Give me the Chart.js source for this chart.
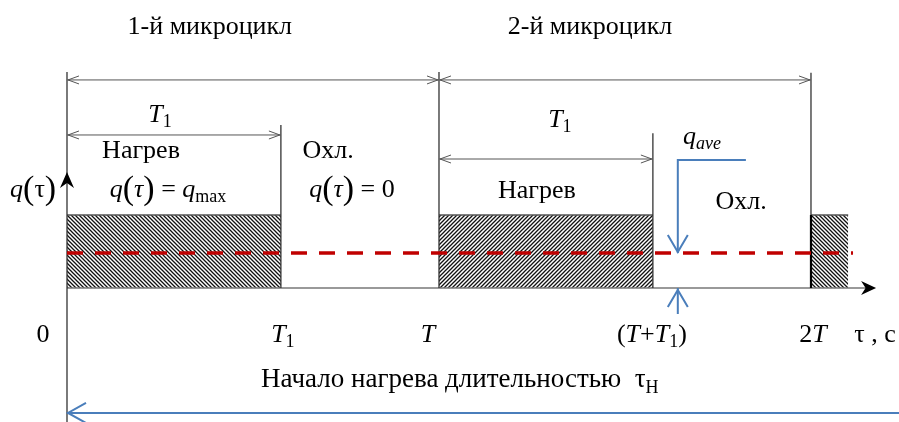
<!DOCTYPE html>
<html>
<head>
<meta charset="utf-8">
<script src="https://cdn.jsdelivr.net/npm/chart.js@4.4.0/dist/chart.umd.min.js"></script>
<style>
body{margin:0;background:#fff;}
#wrap{width:899px;height:422px;position:relative;}
</style>
</head>
<body>
<div id="wrap"><canvas id="c"></canvas></div>
<script>
// values, time in units of T, heat flux in units of q_max
const T = 1;
const T1 = 0.575;
const qMax = 1;
const qAve = 0.48;
const pulseStart = [0, T, 2 * T];
const pulseEnd = [T1, T + T1, 2.1];
const tickValues = [0, T1, T, T + T1, 2 * T];
const tickLabels = ['0', '<i>T</i><sub>1</sub>', '<i>T</i>', '(<i>T</i>+<i>T</i><sub>1</sub>)', '2<i>T</i>'];

const FONT = '"Liberation Serif", "Times New Roman", serif';
const BLUE = '#4a7ebb';

function hatch(dir){
    const c = document.createElement('canvas');
    c.width = 4; c.height = 4;
    const g = c.getContext('2d');
    g.strokeStyle = '#111';
    g.lineWidth = 1.3;
    g.beginPath();
    if (dir > 0) {
        g.moveTo(-1, 5); g.lineTo(5, -1);
        g.moveTo(-1, 1); g.lineTo(1, -1);
        g.moveTo(3, 5); g.lineTo(5, 3);
    } else {
        g.moveTo(-1, -1); g.lineTo(5, 5);
        g.moveTo(-1, 3); g.lineTo(1, 5);
        g.moveTo(3, -1); g.lineTo(5, 1);
    }
    g.stroke();
    return g.createPattern(c, 'repeat');
}

function seg(points, color, width, order, dash){
    return {
        data: points.map(p => ({x: p[0], y: p[1]})),
        borderColor: color,
        borderWidth: width,
        borderDash: dash || [],
        pointRadius: 0,
        fill: false,
        order: order
    };
}

const datasets = [];
// heating pulses
pulseStart.forEach((s, i) => {
    datasets.push({
        data: [{x: s, y: qMax}, {x: pulseEnd[i], y: qMax}],
        borderColor: '#555',
        borderWidth: 1.5,
        backgroundColor: hatch(i === 1 ? 1 : -1),
        pointRadius: 0,
        fill: 'origin',
        order: 6
    });
});
// time axis
datasets.push(seg([[0, 0], [2.17, 0]], '#777', 1.5, 4));
// vertical guides at tick values
const guideTop = [2.96, 2.233, 2.96, 2.12, 2.95];
tickValues.forEach((v, i) => {
    datasets.push(seg([[v, i === 0 ? -1.9 : 0], [v, guideTop[i]]], '#333', 1.3, 3));
});
// left edge of the third pulse
datasets.push(seg([[2 * T, 0], [2 * T, qMax]], '#000', 2.2, 2));
// average flux
datasets.push(seg([[0, qAve], [2.113, qAve]], '#c00000', 3.5, 1, [16, 12]));
// q_ave pointer
datasets.push(seg([[1.825, 1.753], [1.642, 1.753], [1.642, qAve]], BLUE, 2, 0));
datasets.push(seg([[1.642, 0], [1.642, -0.356]], BLUE, 2, 0));
// heating duration arrow
datasets.push(seg([[0, -1.712], [2.3, -1.712]], BLUE, 2, 0));

function runs(str){
    const out = [];
    const re = /<(i|sub|isub|big)>(.*?)<\/\1>|([^<]+)/g;
    let m;
    while ((m = re.exec(str))) {
        if (m[3]) out.push({t: m[3], k: 'r'});
        else out.push({t: m[2], k: m[1]});
    }
    return out;
}
function drawRich(ctx, str, x, y, size){
    const rs = runs(str);
    const sizeOf = k => (k === 'sub' || k === 'isub') ? Math.round(size * 0.68) : k === 'big' ? Math.round(size * 1.3) : size;
    const fontOf = k => ((k === 'i' || k === 'isub') ? 'italic ' : '') + sizeOf(k) + 'px ' + FONT;
    let w = 0;
    rs.forEach(r => { ctx.font = fontOf(r.k); r.w = ctx.measureText(r.t).width; w += r.w; });
    let cx = x - w / 2;
    const base = y + size * 0.33;
    ctx.textBaseline = 'alphabetic';
    ctx.textAlign = 'left';
    ctx.fillStyle = '#000';
    rs.forEach(r => {
        ctx.font = fontOf(r.k);
        let dy = 0;
        if (r.k === 'sub' || r.k === 'isub') dy = size * 0.22;
        if (r.k === 'big') dy = size * 0.1;
        ctx.fillText(r.t, cx, base + dy);
        cx += r.w;
    });
}

function openHead(ctx, x, y, dx, dy, len, half){
    // tip at x,y, pointing along dx,dy
    const px = -dy, py = dx;
    ctx.beginPath();
    ctx.moveTo(x - dx * len + px * half, y - dy * len + py * half);
    ctx.lineTo(x, y);
    ctx.lineTo(x - dx * len - px * half, y - dy * len - py * half);
    ctx.stroke();
}
function filledHead(ctx, x, y, dx, dy, len, half){
    const px = -dy, py = dx;
    ctx.beginPath();
    ctx.moveTo(x, y);
    ctx.lineTo(x - dx * len + px * half, y - dy * len + py * half);
    ctx.lineTo(x - dx * len * 0.7, y - dy * len * 0.7);
    ctx.lineTo(x - dx * len - px * half, y - dy * len - py * half);
    ctx.closePath();
    ctx.fill();
}

const dims = [[0, T, 2.85], [T, 2 * T, 2.85], [0, T1, 2.096], [T, T + T1, 1.767]];
const labels = [
    ['1-й микроцикл', 0.384, 3.603, 26],
    ['2-й микроцикл', 1.406, 3.603, 26],
    ['<i>T</i><sub>1</sub>', 0.25, 2.397, 26],
    ['Нагрев', 0.199, 1.904, 26],
    ['<i>q</i><big>(</big><i>τ</i><big>)</big> = <i>q</i><sub>max</sub>', 0.2715, 1.37, 26],
    ['Охл.', 0.702, 1.904, 26],
    ['<i>q</i><big>(</big><i>τ</i><big>)</big> = 0', 0.766, 1.37, 26],
    ['<i>q</i><big>(</big>τ<big>)</big>', -0.091, 1.37, 26],
    ['<i>T</i><sub>1</sub>', 1.325, 2.329, 26],
    ['Нагрев', 1.263, 1.356, 26],
    ['<i>q</i><isub>ave</isub>', 1.707, 2.096, 26],
    ['Охл.', 1.812, 1.205, 26],
    ['τ , с', 2.172, -0.616, 26],
    ['Начало нагрева длительностью  τ<sub>Н</sub>', 1.056, -1.233, 27]
];
const tickShift = [-24, 2, -11, -1, 2];

const overlay = {
    id: 'overlay',
    afterDatasetsDraw(chart){
        const ctx = chart.ctx;
        const xs = chart.scales.x, ys = chart.scales.y;
        const X = v => xs.getPixelForValue(v), Y = v => ys.getPixelForValue(v);
        ctx.save();
        // dimension lines
        ctx.strokeStyle = '#555';
        ctx.lineWidth = 1;
        dims.forEach(d => {
            const a = X(d[0]), b = X(d[1]), y = Y(d[2]);
            ctx.beginPath(); ctx.moveTo(a, y); ctx.lineTo(b, y); ctx.stroke();
            openHead(ctx, a + 1, y, -1, 0, 11, 4);
            openHead(ctx, b - 1, y, 1, 0, 11, 4);
        });
        // axis arrows
        ctx.fillStyle = '#000';
        filledHead(ctx, X(2.175), Y(0), 1, 0, 15, 7);
        filledHead(ctx, X(0), Y(1.59), 0, -1, 16, 7);
        // blue arrowheads
        ctx.strokeStyle = BLUE;
        ctx.lineWidth = 2;
        openHead(ctx, X(1.642), Y(qAve) - 1, 0, 1, 17, 10);
        openHead(ctx, X(1.642), Y(0) + 2, 0, -1, 17, 10);
        openHead(ctx, X(0) + 1, Y(-1.712), -1, 0, 18, 10);
        // texts
        labels.forEach(l => drawRich(ctx, l[0], X(l[1]), Y(l[2]), l[3]));
        tickValues.forEach((v, i) => drawRich(ctx, tickLabels[i], X(v) + tickShift[i], Y(-0.616), 26));
        ctx.restore();
    }
};

new Chart(document.getElementById('c'), {
    type: 'line',
    data: {datasets: datasets},
    options: {
        responsive: true,
        maintainAspectRatio: false,
        animation: false,
        events: [],
        layout: {padding: 0},
        elements: {line: {tension: 0}},
        plugins: {legend: {display: false}, tooltip: {enabled: false}},
        scales: {
            x: {type: 'linear', display: false, min: -0.1801, max: 2.2366},
            y: {type: 'linear', display: false, min: -1.8356, max: 3.945}
        }
    },
    plugins: [overlay]
});
</script>
</body>
</html>
